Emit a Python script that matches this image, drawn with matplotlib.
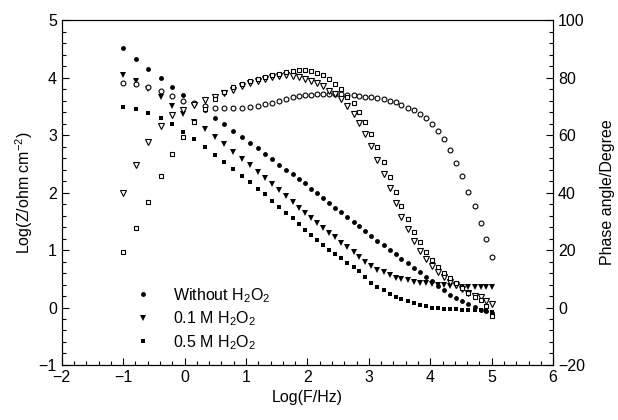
import numpy as np
import matplotlib
matplotlib.use("Agg")
import matplotlib.pyplot as plt

plt.rcParams['font.family'] = ['Liberation Sans', 'DejaVu Sans']
plt.rcParams['mathtext.default'] = 'regular'

# log frequency (same for every series)
logf = [-1.0, -0.79, -0.59, -0.39, -0.2, -0.02, 0.16, 0.33, 0.49, 0.64,
        0.79, 0.93, 1.06, 1.19, 1.31, 1.43, 1.54, 1.65, 1.76, 1.86,
        1.96, 2.06, 2.16, 2.25, 2.35, 2.45, 2.55, 2.65, 2.75, 2.84,
        2.94, 3.04, 3.14, 3.24, 3.34, 3.44, 3.53, 3.63, 3.73, 3.83,
        3.93, 4.03, 4.13, 4.23, 4.32, 4.42, 4.52, 4.62, 4.72, 4.82,
        4.91, 5.0]

# log |Z|
z_0 = [4.51, 4.33, 4.15, 3.99, 3.83, 3.70, 3.56, 3.43, 3.30, 3.19,
       3.08, 2.97, 2.87, 2.77, 2.67, 2.58, 2.48, 2.40, 2.32, 2.24,
       2.16, 2.07, 1.99, 1.91, 1.82, 1.74, 1.66, 1.58, 1.49, 1.41,
       1.33, 1.24, 1.16, 1.08, 1.00, 0.93, 0.85, 0.77, 0.69, 0.61,
       0.53, 0.46, 0.38, 0.30, 0.22, 0.17, 0.11, 0.06, 0.01, -0.04,
       -0.06, -0.09]
z_01 = [4.05, 3.94, 3.81, 3.67, 3.50, 3.37, 3.23, 3.10, 2.97, 2.84,
        2.71, 2.59, 2.48, 2.36, 2.26, 2.15, 2.05, 1.94, 1.84, 1.74,
        1.65, 1.55, 1.47, 1.38, 1.30, 1.22, 1.13, 1.06, 0.97, 0.88,
        0.80, 0.73, 0.66, 0.61, 0.56, 0.52, 0.49, 0.47, 0.45, 0.43,
        0.42, 0.41, 0.40, 0.39, 0.38, 0.37, 0.36, 0.35, 0.35, 0.35,
        0.35, 0.35]
z_05 = [3.49, 3.45, 3.39, 3.30, 3.19, 3.06, 2.93, 2.80, 2.66, 2.54,
        2.41, 2.29, 2.18, 2.07, 1.97, 1.85, 1.75, 1.65, 1.55, 1.45,
        1.35, 1.26, 1.17, 1.09, 1.00, 0.93, 0.86, 0.78, 0.71, 0.64,
        0.53, 0.43, 0.36, 0.30, 0.24, 0.19, 0.15, 0.11, 0.08, 0.05,
        0.02, 0.0, -0.01, -0.02, -0.03, -0.03, -0.04, -0.04, -0.05, -0.05,
        -0.06, -0.07]

# phase angle
ph_0 = [78.3, 77.7, 76.6, 75.2, 73.5, 72.0, 71.0, 70.1, 69.5, 69.3,
        69.3, 69.5, 69.9, 70.2, 70.7, 71.2, 71.9, 72.5, 73.1, 73.6,
        73.8, 74.0, 74.3, 74.4, 74.4, 74.4, 74.2, 74.0, 73.8, 73.6,
        73.4, 73.2, 73.0, 72.5, 71.9, 71.4, 70.4, 69.6, 68.7, 67.3,
        65.9, 63.9, 61.5, 58.6, 54.9, 50.3, 45.7, 40.3, 35.4, 29.3,
        23.7, 17.6]
ph_01 = [39.8, 49.6, 57.5, 63.2, 67.0, 68.9, 70.4, 72.2, 73.3, 74.5,
         75.8, 77.0, 78.0, 78.8, 79.5, 80.1, 80.5, 80.9, 80.5, 80.1,
         79.6, 78.9, 78.0, 77.0, 75.4, 74.3, 72.4, 70.1, 67.5, 64.3,
         60.5, 56.2, 51.5, 46.4, 41.5, 36.2, 31.4, 27.2, 23.2, 19.8,
         16.8, 14.4, 12.3, 10.7, 9.0, 7.8, 6.5, 5.2, 4.0, 3.5,
         2.4, 1.2]
ph_05 = [19.4, 27.8, 36.8, 45.7, 53.4, 59.4, 64.4, 69.0, 72.6, 75.0,
         76.6, 77.8, 78.8, 79.6, 80.3, 80.8, 81.3, 81.8, 82.2, 82.5,
         82.6, 82.4, 81.7, 80.8, 79.4, 77.7, 76.0, 73.3, 71.0, 68.0,
         64.4, 60.5, 55.8, 50.7, 45.5, 40.3, 35.4, 30.8, 26.4, 22.8,
         19.4, 16.5, 14.2, 12.1, 10.2, 8.4, 6.7, 5.2, 3.8, 2.6,
         0.5, -3.0]

labels = ['Without H$_2$O$_2$', '0.1 M H$_2$O$_2$', '0.5 M H$_2$O$_2$']

fig = plt.figure(figsize=(6.18, 4.2), dpi=100)
ax = fig.add_axes([0.100, 0.131, 0.795, 0.821])
ax2 = ax.twinx()

ms = 3.5
ax.plot(logf, z_0, 'o', color='k', ms=ms, mew=0, label=labels[0])
ax.plot(logf, z_01, 'v', color='k', ms=ms + 0.4, mew=0, label=labels[1])
ax.plot(logf, z_05, 's', color='k', ms=ms - 0.6, mew=0, label=labels[2])

ax2.plot(logf, ph_0, 'o', mfc='white', mec='k', ms=ms, mew=0.8)
ax2.plot(logf, ph_01, 'v', mfc='white', mec='k', ms=ms + 0.4, mew=0.8)
ax2.plot(logf, ph_05, 's', mfc='white', mec='k', ms=ms - 0.6, mew=0.8)

fs = 11.5
ax.set_xlim(-2, 6)
ax.set_ylim(-1, 5)
ax2.set_ylim(-20, 100)
ax.set_xticks(range(-2, 7))
ax.set_yticks(range(-1, 6))
ax2.set_yticks(range(-20, 101, 20))
ax.set_xticks(np.arange(-2, 6.01, 0.2), minor=True)
ax.set_yticks(np.arange(-1, 5.01, 0.2), minor=True)
ax2.set_yticks(np.arange(-20, 100.1, 4), minor=True)

ax.tick_params(axis='both', which='both', direction='in', labelsize=fs, top=False)
ax.tick_params(which='major', length=5, width=0.8)
ax.tick_params(which='minor', length=3, width=0.8)
ax.tick_params(axis='y', right=False)
ax2.tick_params(axis='y', which='both', direction='in', labelsize=fs)
ax2.tick_params(which='major', length=5, width=0.8)
ax2.tick_params(which='minor', length=3, width=0.8)

ax.set_xlabel('Log(F/Hz)', fontsize=fs, labelpad=4)
ax.set_ylabel('Log(Z/ohm cm$^{-2}$)', fontsize=fs, labelpad=3)
ax2.set_ylabel('Phase angle/Degree', fontsize=fs, labelpad=11)

ax.legend(loc='lower left', bbox_to_anchor=(0.12, 0.02), frameon=False,
          fontsize=fs, handletextpad=0.85, labelspacing=0.3, borderaxespad=0)

fig.savefig('out.png', dpi=100)
